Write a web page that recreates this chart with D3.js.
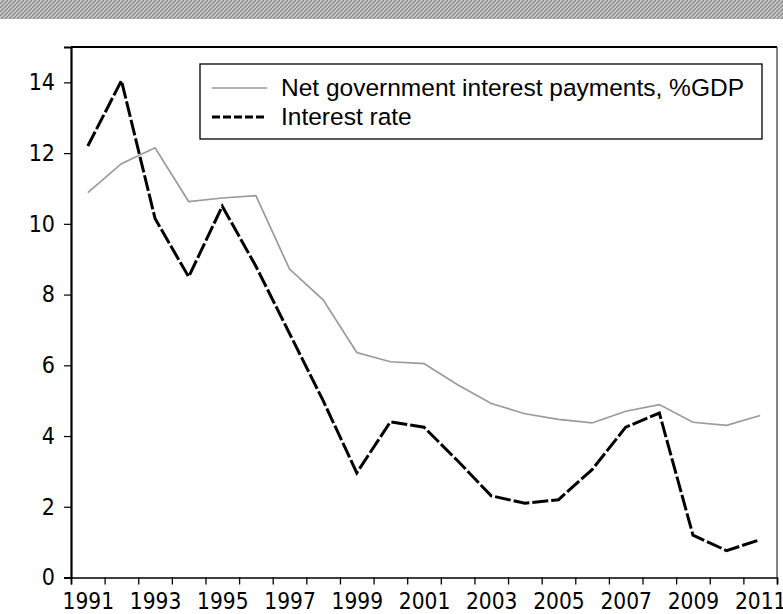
<!DOCTYPE html>
<html>
<head>
<meta charset="utf-8">
<script src="https://cdn.jsdelivr.net/npm/d3@7"></script>
<style>
  body { margin: 0; background: #fff; }
  svg { display: block; }
</style>
</head>
<body>
<script>
// Net government interest payments vs interest rate, 1991-2011

var years = [1991, 1992, 1993, 1994, 1995, 1996, 1997, 1998, 1999, 2000, 2001,
             2002, 2003, 2004, 2005, 2006, 2007, 2008, 2009, 2010, 2011];
var netInterest = [10.88, 11.7, 12.15, 10.63, 10.73, 10.8, 8.72, 7.85, 6.36, 6.1, 6.05,
                   5.45, 4.92, 4.63, 4.47, 4.37, 4.7, 4.89, 4.39, 4.3, 4.58];
var interestRate = [12.2, 14.05, 10.15, 8.5, 10.5, 8.8, 6.9, 5.0, 2.96, 4.4, 4.25,
                    3.3, 2.31, 2.1, 2.2, 3.05, 4.25, 4.65, 1.2, 0.76, 1.07];
var yTicks = [0, 2, 4, 6, 8, 10, 12, 14];
var xLabels = [1991, 1993, 1995, 1997, 1999, 2001, 2003, 2005, 2007, 2009, 2011];
var legendNames = ["Net government interest payments, %GDP", "Interest rate"];

function drawChart() {
  var w = 783;
  var h = 614;
  var mLeft = 71, mRight = 777, mTop = 47, mBottom = 577.5;

  var svg = d3.select("body")
    .append("svg")
    .attr("width", w)
    .attr("height", h);

  // scanned page strip at the top
  var pat = svg.append("defs").append("pattern")
    .attr("id", "hatch")
    .attr("width", 4).attr("height", 4)
    .attr("patternUnits", "userSpaceOnUse");
  pat.append("rect").attr("width", 4).attr("height", 4).attr("fill", "#c4c4c4");
  pat.append("path").attr("d", "M0,4 L4,0").attr("stroke", "#858585").attr("stroke-width", 1.2);
  svg.append("rect")
    .attr("x", 0).attr("y", 0)
    .attr("width", w).attr("height", 19)
    .attr("fill", "url(#hatch)");

  // each year is a band, points sit in the middle of it
  var x = d3.scaleLinear()
    .domain([years[0] - 0.5, years[years.length - 1] + 0.5])
    .range([mLeft, mRight]);

  var y = d3.scaleLinear()
    .domain([0, 15])
    .range([mBottom, mTop]);

  var tickFont = "'Liberation Sans Narrow', 'DejaVu Sans Condensed', sans-serif";

  // frame top and right
  svg.append("line")
    .attr("x1", mLeft).attr("x2", mRight)
    .attr("y1", mTop).attr("y2", mTop)
    .attr("stroke", "#000").attr("stroke-width", 2);
  svg.append("line")
    .attr("x1", mRight).attr("x2", mRight)
    .attr("y1", mTop).attr("y2", mBottom)
    .attr("stroke", "#333").attr("stroke-width", 1.2);

  // x ticks on the band edges
  var edges = years.map(function(d) { return d - 0.5; }).concat([years[years.length - 1] + 0.5]);
  svg.append("g")
    .attr("transform", "translate(0," + mBottom + ")")
    .call(d3.axisBottom(x).tickValues(edges).tickSize(7).tickFormat(""))
    .call(function(g) {
      g.select(".domain").attr("stroke-width", 1.6);
      g.selectAll(".tick line").attr("stroke-width", 1.3);
    });

  // x labels in the band centres
  svg.append("g")
    .attr("transform", "translate(0," + mBottom + ")")
    .call(d3.axisBottom(x).tickValues(xLabels).tickSize(0).tickPadding(16).tickFormat(d3.format("d")))
    .call(function(g) {
      g.select(".domain").remove();
      g.selectAll("text")
        .attr("font-family", tickFont)
        .attr("font-size", 22.5)
        .attr("fill", "#000");
    });

  // y axis
  svg.append("g")
    .attr("transform", "translate(" + mLeft + ",0)")
    .call(d3.axisLeft(y).tickValues(yTicks).tickSize(7).tickPadding(9))
    .call(function(g) {
      g.select(".domain").attr("stroke-width", 2.2);
      g.selectAll(".tick line").attr("stroke-width", 1.2);
      g.selectAll("text")
        .attr("font-family", tickFont)
        .attr("font-size", 23)
        .attr("fill", "#000");
    });

  var line = d3.line()
    .x(function(d, i) { return x(years[i]); })
    .y(function(d) { return y(d); });

  svg.append("path")
    .datum(netInterest)
    .attr("d", line)
    .attr("fill", "none")
    .attr("stroke", "#9a9a9a")
    .attr("stroke-width", 1.7);

  svg.append("path")
    .datum(interestRate)
    .attr("d", line)
    .attr("fill", "none")
    .attr("stroke", "#000")
    .attr("stroke-width", 3)
    .attr("stroke-dasharray", "16,3");

  // legend
  var legend = svg.append("g");
  legend.append("rect")
    .attr("x", 200).attr("y", 64)
    .attr("width", 562).attr("height", 75)
    .attr("fill", "#fff")
    .attr("stroke", "#000")
    .attr("stroke-width", 1.3);

  var legendStyles = [
    { stroke: "#9a9a9a", width: 1.7, dash: null },
    { stroke: "#000", width: 3, dash: "8,3" }
  ];
  legendNames.forEach(function(name, i) {
    var ly = 88 + i * 29;
    legend.append("line")
      .attr("x1", 212).attr("x2", 267)
      .attr("y1", ly).attr("y2", ly)
      .attr("stroke", legendStyles[i].stroke)
      .attr("stroke-width", legendStyles[i].width)
      .attr("stroke-dasharray", legendStyles[i].dash);
    legend.append("text")
      .attr("x", 281)
      .attr("y", ly + 8)
      .attr("font-family", "'Liberation Sans', Arial, sans-serif")
      .attr("font-size", 24.5)
      .attr("fill", "#000")
      .text(name);
  });
}

drawChart();
</script>
</body>
</html>
